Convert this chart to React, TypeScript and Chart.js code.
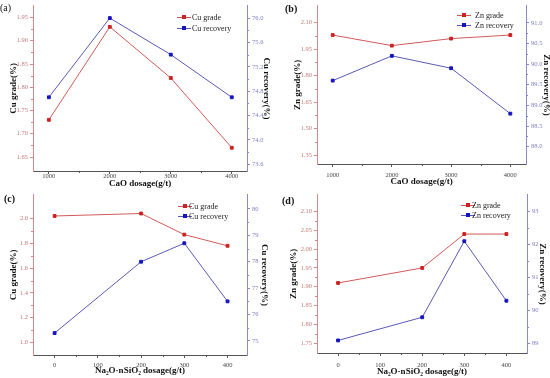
import React, { useEffect, useRef } from "react";
import { Chart, registerables } from "chart.js";

Chart.register(...registerables);

// ---------- data ----------
const caoDosage = [1000, 2000, 3000, 4000];
const naDosage = [0, 200, 300, 400];

const cuGradeA = [1.73, 1.93, 1.82, 1.67];
const cuRecoveryA = [74.7, 76.0, 75.4, 74.7];

const znGradeB = [2.03, 1.97, 2.01, 2.03];
const znRecoveryB = [89.6, 90.2, 89.9, 88.8];

const cuGradeC = [2.02, 2.04, 1.87, 1.78];
const cuRecoveryC = [75.3, 78.0, 78.7, 76.5];

const znGradeD = [1.91, 1.95, 2.04, 2.04];
const znRecoveryD = [89.1, 89.8, 92.1, 90.3];

// ---------- tick labels ----------
const caoTicks = [1000, 2000, 3000, 4000];
const naTicks = [0, 100, 200, 300, 400];
const aLeftTicks = [1.65, 1.7, 1.75, 1.8, 1.85, 1.9, 1.95];
const aRightTicks = [73.6, 74.0, 74.4, 74.8, 75.2, 75.6, 76.0];
const bLeftTicks = [1.35, 1.5, 1.65, 1.8, 1.95, 2.1];
const bRightTicks = [88.0, 88.5, 89.0, 89.5, 90.0, 90.5, 91.0];
const cLeftTicks = [1.0, 1.2, 1.4, 1.6, 1.8, 2.0];
const cRightTicks = [75, 76, 77, 78, 79, 80];
const dLeftTicks = [1.75, 1.8, 1.85, 1.9, 1.95, 2.0, 2.05, 2.1];
const dRightTicks = [89, 90, 91, 92, 93];

// ---------- styles ----------
const RED_LINE = "#d05a5a";
const RED_PT = "#cc2222";
const BLUE_LINE = "#5a5ab4";
const BLUE_PT = "#1414c0";
const RED_AXIS = "#d48a8a";
const BLUE_AXIS = "#8a8ac8";
const RED_TICK = "#c47a7a";
const BLUE_TICK = "#8080c0";
const SERIF = "'Liberation Serif', 'DejaVu Serif', serif";

const minorTicks = {
  id: "minorTicks",
  afterDraw(chart: any) {
    const ctx = chart.ctx;
    Object.values(chart.scales).forEach((s: any) => {
      const t = s.ticks.map((k: any) => k.value);
      if (t.length < 2) return;
      ctx.save();
      ctx.strokeStyle = s.options.border.color;
      ctx.lineWidth = 1;
      ctx.beginPath();
      for (let i = 0; i < t.length - 1; i++) {
        const v = (t[i] + t[i + 1]) / 2;
        const p = Math.round(s.getPixelForValue(v)) + 0.5;
        if (s.isHorizontal()) {
          ctx.moveTo(p, s.top);
          ctx.lineTo(p, s.top + 2);
        } else if (s.position === "left") {
          ctx.moveTo(s.right, p);
          ctx.lineTo(s.right - 2, p);
        } else {
          ctx.moveTo(s.left, p);
          ctx.lineTo(s.left + 2, p);
        }
      }
      ctx.stroke();
      ctx.restore();
    });
  },
};

const innerLegend = {
  id: "innerLegend",
  afterDraw(chart: any, _args: any, opts: any) {
    const ctx = chart.ctx;
    const ca = chart.chartArea;
    ctx.save();
    chart.data.datasets.forEach((ds: any, i: number) => {
      const y = Math.round(ca.top + opts.rows[i]) + 0.5;
      const x0 = ca.right - opts.lineStart;
      ctx.strokeStyle = ds.borderColor;
      ctx.lineWidth = 1;
      ctx.beginPath();
      ctx.moveTo(x0, y);
      ctx.lineTo(x0 + 14, y);
      ctx.stroke();
      ctx.fillStyle = ds.pointBackgroundColor;
      ctx.fillRect(x0 + 5, y - 2.5, 4, 4);
      ctx.fillStyle = "#222";
      ctx.font = `8px ${SERIF}`;
      ctx.textBaseline = "middle";
      ctx.textAlign = "left";
      ctx.fillText(ds.label, ca.right - opts.textStart, y);
    });
    ctx.restore();
  },
};

const panelLabel = {
  id: "panelLabel",
  afterDraw(chart: any, _args: any, opts: any) {
    const ctx = chart.ctx;
    ctx.save();
    ctx.fillStyle = "#111";
    ctx.font = `${opts.bold ? "bold " : ""}10px ${SERIF}`;
    ctx.textBaseline = "middle";
    ctx.textAlign = "left";
    ctx.fillText(opts.text, opts.x, opts.y);
    ctx.restore();
  },
};

type PanelCfg = {
  label: string;
  labelBold: boolean;
  labelX: number;
  labelY: number;
  xs: number[];
  grade: number[];
  recovery: number[];
  gradeName: string;
  recoveryName: string;
  xTicks: number[];
  xMin: number;
  xMax: number;
  xTitle: string;
  leftTicks: number[];
  leftMin: number;
  leftMax: number;
  leftDec: number;
  leftTitle: string;
  rightTicks: number[];
  rightMin: number;
  rightMax: number;
  rightDec: number;
  rightTitle: string;
  top: number;
  leftW: number;
  rightW: number;
  bottomH: number;
  xTitlePad: number;
  leftTitlePad: number;
  rightTitlePad: number;
  xTickPad: number;
  legendRows: number[];
  legendLineStart: number;
  legendTextStart: number;
};

function Panel({ cfg, left, top }: { cfg: PanelCfg; left: number; top: number }) {
  const ref = useRef<HTMLCanvasElement | null>(null);
  useEffect(() => {
    if (!ref.current) return;
    const tickFont = { family: SERIF, size: 6.5 };
    const titleFont = { family: SERIF, size: 9, weight: "bold" as const, lineHeight: 1 };
    const chart = new Chart(ref.current, {
      type: "line",
      data: {
        datasets: [
          {
            label: cfg.gradeName,
            data: cfg.xs.map((x, i) => ({ x, y: cfg.grade[i] })),
            borderColor: RED_LINE,
            backgroundColor: RED_PT,
            pointBackgroundColor: RED_PT,
            pointBorderColor: RED_PT,
            pointStyle: "rect",
            pointRadius: 2,
            borderWidth: 1,
            yAxisID: "y",
          },
          {
            label: cfg.recoveryName,
            data: cfg.xs.map((x, i) => ({ x, y: cfg.recovery[i] })),
            borderColor: BLUE_LINE,
            backgroundColor: BLUE_PT,
            pointBackgroundColor: BLUE_PT,
            pointBorderColor: BLUE_PT,
            pointStyle: "rect",
            pointRadius: 2,
            borderWidth: 1,
            yAxisID: "y1",
          },
        ],
      },
      options: {
        responsive: false,
        animation: false,
        devicePixelRatio: 1,
        events: [],
        layout: { padding: { top: cfg.top, left: 0, right: 0, bottom: 0 } },
        plugins: {
          legend: { display: false },
          tooltip: { enabled: false },
          innerLegend: {
            rows: cfg.legendRows,
            lineStart: cfg.legendLineStart,
            textStart: cfg.legendTextStart,
          },
          panelLabel: { text: cfg.label, bold: cfg.labelBold, x: cfg.labelX, y: cfg.labelY },
        } as any,
        scales: {
          x: {
            type: "linear",
            position: "bottom",
            min: cfg.xMin,
            max: cfg.xMax,
            afterBuildTicks: (s: any) => {
              s.ticks = cfg.xTicks.map((v) => ({ value: v }));
            },
            afterFit: (s: any) => {
              s.height = cfg.bottomH;
            },
            grid: { drawOnChartArea: false, drawTicks: true, tickLength: 3, color: "#555" },
            border: { display: true, color: "#555" },
            ticks: {
              font: tickFont,
              color: "#444",
              padding: cfg.xTickPad,
              maxRotation: 0,
              autoSkip: false,
              callback: (v: any) => String(v),
            },
            title: {
              display: true,
              text: cfg.xTitle,
              font: titleFont,
              color: "#111",
              padding: { top: 0, bottom: cfg.xTitlePad },
            },
          },
          y: {
            type: "linear",
            position: "left",
            min: cfg.leftMin,
            max: cfg.leftMax,
            afterBuildTicks: (s: any) => {
              s.ticks = cfg.leftTicks.map((v) => ({ value: v }));
            },
            afterFit: (s: any) => {
              s.width = cfg.leftW;
            },
            grid: { drawOnChartArea: false, drawTicks: true, tickLength: 3, color: RED_AXIS },
            border: { display: true, color: RED_AXIS },
            ticks: {
              font: tickFont,
              color: RED_TICK,
              padding: 2,
              autoSkip: false,
              callback: (v: any) => Number(v).toFixed(cfg.leftDec),
            },
            title: {
              display: true,
              text: cfg.leftTitle,
              font: titleFont,
              color: "#111",
              padding: { top: cfg.leftTitlePad, bottom: 0 },
            },
          },
          y1: {
            type: "linear",
            position: "right",
            min: cfg.rightMin,
            max: cfg.rightMax,
            afterBuildTicks: (s: any) => {
              s.ticks = cfg.rightTicks.map((v) => ({ value: v }));
            },
            afterFit: (s: any) => {
              s.width = cfg.rightW;
            },
            grid: { drawOnChartArea: false, drawTicks: true, tickLength: 3, color: BLUE_AXIS },
            border: { display: true, color: BLUE_AXIS },
            ticks: {
              font: tickFont,
              color: BLUE_TICK,
              padding: 2,
              autoSkip: false,
              callback: (v: any) => Number(v).toFixed(cfg.rightDec),
            },
            title: {
              display: true,
              text: cfg.rightTitle,
              font: titleFont,
              color: "#111",
              padding: { top: cfg.rightTitlePad, bottom: 0 },
            },
          },
        },
      },
      plugins: [minorTicks, innerLegend, panelLabel],
    });
    return () => chart.destroy();
  }, [cfg]);
  return (
    <canvas
      ref={ref}
      width={275}
      height={189}
      style={{ position: "absolute", left, top, width: 275, height: 189 }}
    />
  );
}

const panelA: PanelCfg = {
  label: "(a)", labelBold: false, labelX: 0, labelY: 8,
  xs: caoDosage, grade: cuGradeA, recovery: cuRecoveryA,
  gradeName: "Cu grade", recoveryName: "Cu recovery",
  xTicks: caoTicks, xMin: 740, xMax: 4250, xTitle: "CaO dosage(g/t)",
  leftTicks: aLeftTicks, leftMin: 1.62, leftMax: 1.975, leftDec: 2, leftTitle: "Cu grade(%)",
  rightTicks: aRightTicks, rightMin: 73.49, rightMax: 76.2, rightDec: 1, rightTitle: "Cu recovery(%)",
  top: 3, leftW: 33, rightW: 28, bottomH: 18,
  xTitlePad: 1, leftTitlePad: 9, rightTitlePad: 4, xTickPad: -2,
  legendRows: [11, 22], legendLineStart: 70, legendTextStart: 55,
};

const panelB: PanelCfg = {
  label: "(b)", labelBold: true, labelX: 10, labelY: 9,
  xs: caoDosage, grade: znGradeB, recovery: znRecoveryB,
  gradeName: "Zn grade", recoveryName: "Zn recovery",
  xTicks: caoTicks, xMin: 735, xMax: 4265, xTitle: "CaO dosage(g/t)",
  leftTicks: bLeftTicks, leftMin: 1.3, leftMax: 2.195, leftDec: 2, leftTitle: "Zn grade(%)",
  rightTicks: bRightTicks, rightMin: 87.58, rightMax: 91.41, rightDec: 1, rightTitle: "Zn recovery(%)",
  top: 3, leftW: 42, rightW: 24, bottomH: 25,
  xTitlePad: 3, leftTitlePad: 18, rightTitlePad: -1, xTickPad: 4,
  legendRows: [9, 19], legendLineStart: 69, legendTextStart: 51,
};

const panelC: PanelCfg = {
  label: "(c)", labelBold: true, labelX: 4, labelY: 10,
  xs: naDosage, grade: cuGradeC, recovery: cuRecoveryC,
  gradeName: "Cu grade", recoveryName: "Cu recovery",
  xTicks: naTicks, xMin: -50, xMax: 445, xTitle: "Na₂O·nSiO₂ dosage(g/t)",
  leftTicks: cLeftTicks, leftMin: 0.9, leftMax: 2.19, leftDec: 1, leftTitle: "Cu grade(%)",
  rightTicks: cRightTicks, rightMin: 74.47, rightMax: 80.53, rightDec: 0, rightTitle: "Cu recovery(%)",
  top: 5, leftW: 33, rightW: 28, bottomH: 23,
  xTitlePad: 3, leftTitlePad: 9, rightTitlePad: 6, xTickPad: 3,
  legendRows: [11, 21], legendLineStart: 69, legendTextStart: 58,
};

const panelD: PanelCfg = {
  label: "(d)", labelBold: true, labelX: 7, labelY: 12,
  xs: naDosage, grade: znGradeD, recovery: znRecoveryD,
  gradeName: "Zn grade", recoveryName: "Zn recovery",
  xTicks: naTicks, xMin: -50, xMax: 449, xTitle: "Na₂O·nSiO₂ dosage(g/t)",
  leftTicks: dLeftTicks, leftMin: 1.724, leftMax: 2.144, leftDec: 2, leftTitle: "Zn grade(%)",
  rightTicks: dRightTicks, rightMin: 88.72, rightMax: 93.5, rightDec: 0, rightTitle: "Zn recovery(%)",
  top: 4, leftW: 42, rightW: 23, bottomH: 25,
  xTitlePad: 2, leftTitlePad: 14, rightTitlePad: 3, xTickPad: 5,
  legendRows: [10, 20], legendLineStart: 66, legendTextStart: 55,
};

export default function App() {
  return (
    <div
      style={{
        position: "absolute",
        left: 0,
        top: 0,
        width: 550,
        height: 378,
        background: "#fff",
        overflow: "hidden",
      }}
    >
      <Panel cfg={panelA} left={0} top={0} />
      <Panel cfg={panelB} left={275} top={0} />
      <Panel cfg={panelC} left={0} top={189} />
      <Panel cfg={panelD} left={275} top={189} />
    </div>
  );
}
